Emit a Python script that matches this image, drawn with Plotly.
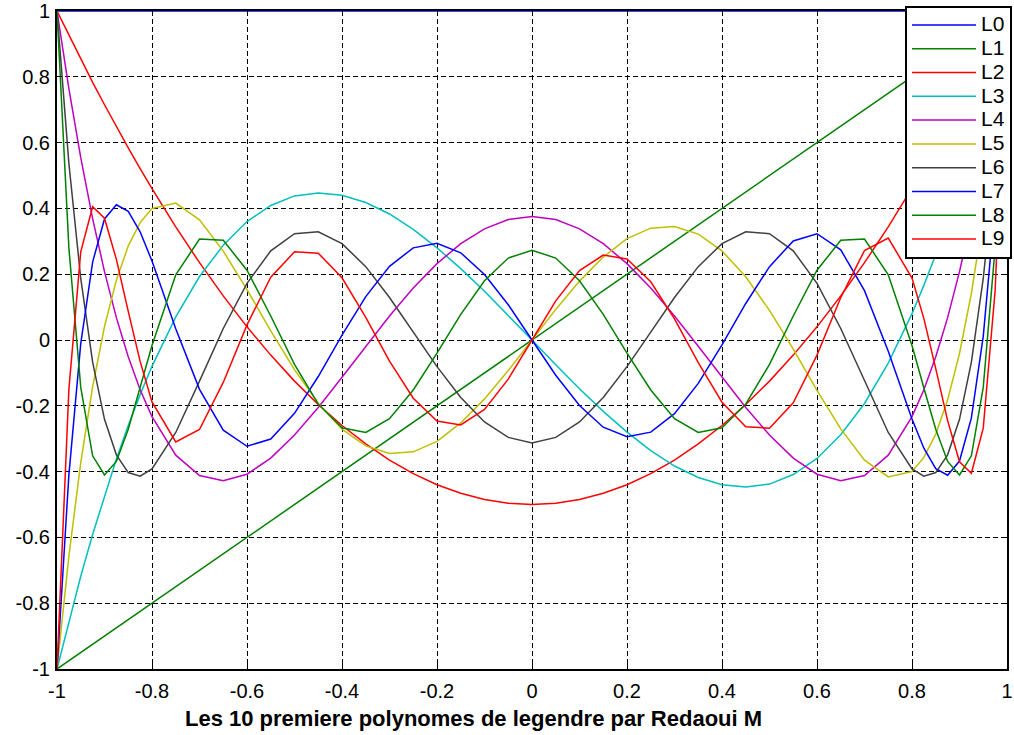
import plotly.graph_objects as go

x = [-1, -0.975, -0.95, -0.925, -0.9, -0.875, -0.85, -0.825, -0.8, -0.75, -0.7, -0.65, -0.6,
     -0.55, -0.5, -0.45, -0.4, -0.35, -0.3, -0.25, -0.2, -0.15, -0.1, -0.05, 0,
     0.05, 0.1, 0.15, 0.2, 0.25, 0.3, 0.35, 0.4, 0.45, 0.5, 0.55, 0.6, 0.65, 0.7, 0.75,
     0.8, 0.825, 0.85, 0.875, 0.9, 0.925, 0.95, 0.975, 1]

L0 = [1, 1, 1, 1, 1, 1, 1, 1, 1, 1, 1, 1, 1, 1, 1, 1, 1, 1, 1, 1, 1, 1, 1, 1, 1,
      1, 1, 1, 1, 1, 1, 1, 1, 1, 1, 1, 1, 1, 1, 1, 1, 1, 1, 1, 1, 1, 1, 1, 1]
L1 = [-1, -0.975, -0.95, -0.925, -0.9, -0.875, -0.85, -0.825, -0.8, -0.75, -0.7, -0.65, -0.6,
      -0.55, -0.5, -0.45, -0.4, -0.35, -0.3, -0.25, -0.2, -0.15, -0.1, -0.05, 0,
      0.05, 0.1, 0.15, 0.2, 0.25, 0.3, 0.35, 0.4, 0.45, 0.5, 0.55, 0.6, 0.65, 0.7, 0.75,
      0.8, 0.825, 0.85, 0.875, 0.9, 0.925, 0.95, 0.975, 1]
L2 = [1, 0.926, 0.854, 0.783, 0.715, 0.648, 0.584, 0.521, 0.46, 0.344, 0.235, 0.134, 0.04,
      -0.046, -0.125, -0.196, -0.26, -0.316, -0.365, -0.406, -0.44, -0.466, -0.485, -0.496, -0.5,
      -0.496, -0.485, -0.466, -0.44, -0.406, -0.365, -0.316, -0.26, -0.196, -0.125, -0.046, 0.04,
      0.134, 0.235, 0.344, 0.46, 0.521, 0.584, 0.648, 0.715, 0.783, 0.854, 0.926, 1]
L3 = [-1, -0.855, -0.718, -0.591, -0.473, -0.362, -0.26, -0.166, -0.08, 0.07, 0.193, 0.288, 0.36,
      0.409, 0.438, 0.447, 0.44, 0.418, 0.383, 0.336, 0.28, 0.217, 0.148, 0.075, 0,
      -0.075, -0.148, -0.217, -0.28, -0.336, -0.383, -0.418, -0.44, -0.447, -0.438, -0.409, -0.36,
      -0.288, -0.193, -0.07, 0.08, 0.166, 0.26, 0.362, 0.473, 0.591, 0.718, 0.855, 1]
L4 = [1, 0.764, 0.554, 0.369, 0.208, 0.068, -0.051, -0.151, -0.233, -0.35, -0.412, -0.428, -0.408,
      -0.359, -0.289, -0.205, -0.113, -0.019, 0.073, 0.158, 0.232, 0.293, 0.338, 0.366, 0.375,
      0.366, 0.338, 0.293, 0.232, 0.158, 0.073, -0.019, -0.113, -0.205, -0.289, -0.359, -0.408,
      -0.428, -0.412, -0.35, -0.233, -0.151, -0.051, 0.068, 0.208, 0.369, 0.554, 0.764, 1]
L5 = [-1, -0.657, -0.373, -0.142, 0.041, 0.182, 0.286, 0.357, 0.4, 0.416, 0.365, 0.27, 0.153,
      0.028, -0.09, -0.192, -0.271, -0.322, -0.345, -0.34, -0.308, -0.252, -0.179, -0.093, 0,
      0.093, 0.179, 0.252, 0.308, 0.34, 0.345, 0.322, 0.271, 0.192, 0.09, -0.028, -0.153,
      -0.27, -0.365, -0.416, -0.4, -0.357, -0.286, -0.182, -0.041, 0.142, 0.373, 0.657, 1]
L6 = [1, 0.537, 0.187, -0.067, -0.241, -0.349, -0.403, -0.414, -0.392, -0.281, -0.125, 0.035, 0.172,
      0.271, 0.323, 0.329, 0.293, 0.223, 0.129, 0.024, -0.081, -0.175, -0.249, -0.296, -0.313,
      -0.296, -0.249, -0.175, -0.081, 0.024, 0.129, 0.223, 0.293, 0.329, 0.323, 0.271, 0.172,
      0.035, -0.125, -0.281, -0.392, -0.414, -0.403, -0.349, -0.241, -0.067, 0.187, 0.537, 1]
L7 = [-1, -0.41, -0.011, 0.237, 0.368, 0.411, 0.391, 0.329, 0.24, 0.034, -0.15, -0.274, -0.323,
      -0.301, -0.223, -0.111, 0.015, 0.132, 0.224, 0.28, 0.294, 0.265, 0.199, 0.107, 0,
      -0.107, -0.199, -0.265, -0.294, -0.28, -0.224, -0.132, -0.015, 0.111, 0.223, 0.301, 0.323,
      0.274, 0.15, -0.034, -0.24, -0.329, -0.391, -0.411, -0.368, -0.237, 0.011, 0.41, 1]
L8 = [1, 0.28, -0.144, -0.352, -0.41, -0.369, -0.271, -0.146, -0.017, 0.198, 0.307, 0.303, 0.212,
      0.073, -0.074, -0.195, -0.267, -0.281, -0.239, -0.152, -0.04, 0.078, 0.18, 0.249, 0.273,
      0.249, 0.18, 0.078, -0.04, -0.152, -0.239, -0.281, -0.267, -0.195, -0.074, 0.073, 0.212,
      0.303, 0.307, 0.198, -0.017, -0.146, -0.271, -0.369, -0.41, -0.352, -0.144, 0.28, 1]
L9 = [-1, -0.15, 0.268, 0.405, 0.37, 0.245, 0.087, -0.065, -0.188, -0.31, -0.272, -0.129, 0.046,
      0.191, 0.268, 0.264, 0.189, 0.069, -0.064, -0.177, -0.246, -0.258, -0.211, -0.119, 0,
      0.119, 0.211, 0.258, 0.246, 0.177, 0.064, -0.069, -0.189, -0.264, -0.268, -0.191, -0.046,
      0.129, 0.272, 0.31, 0.188, 0.065, -0.087, -0.245, -0.37, -0.405, -0.268, 0.15, 1]

names = ["L0", "L1", "L2", "L3", "L4", "L5", "L6", "L7", "L8", "L9"]
series = [L0, L1, L2, L3, L4, L5, L6, L7, L8, L9]
colors = ["#0000ff", "#008000", "#ff0000", "#00bfbf", "#bf00bf",
          "#bfbf00", "#404040", "#0000ff", "#008000", "#ff0000"]

xticks = [-1, -0.8, -0.6, -0.4, -0.2, 0, 0.2, 0.4, 0.6, 0.8, 1]
yticks = [-1, -0.8, -0.6, -0.4, -0.2, 0, 0.2, 0.4, 0.6, 0.8, 1]
xticklabels = ["-1", "-0.8", "-0.6", "-0.4", "-0.2", "0", "0.2", "0.4", "0.6", "0.8", "1"]
yticklabels = ["-1", "-0.8", "-0.6", "-0.4", "-0.2", "0", "0.2", "0.4", "0.6", "0.8", "1"]
xlabel = "Les 10 premiere polynomes de legendre par Redaoui M"

FONT = "Liberation Sans, Arial, sans-serif"

fig = go.Figure()
for name, ys, c in zip(names, series, colors):
    fig.add_trace(go.Scatter(
        x=x, y=ys, mode="lines",
        name='<span style="font-size:21px">' + name + "</span>",
        line=dict(color=c, width=1.5)))

axis_common = dict(
    showline=True, linecolor="black", linewidth=2, mirror="ticks",
    showgrid=True, gridcolor="black", griddash="5px,3px", gridwidth=1,
    ticks="inside", ticklen=5, tickcolor="black", tickwidth=1,
    zeroline=False,
    tickfont=dict(family=FONT, size=20, color="black"),
)

fig.update_layout(
    width=1014, height=735,
    margin=dict(l=57, r=7, t=11, b=66, autoexpand=False),
    paper_bgcolor="white", plot_bgcolor="white",
    showlegend=True,
    legend=dict(
        x=0.8926, y=1.0076, xanchor="left", yanchor="top",
        bgcolor="white", bordercolor="black", borderwidth=2,
        font=dict(family=FONT, size=16, color="black"),
        itemwidth=64, tracegroupgap=0,
    ),
    xaxis=dict(range=[-1, 1], tickvals=xticks, ticktext=xticklabels,
               ticklabelstandoff=3, **axis_common),
    yaxis=dict(range=[-1, 1], tickvals=yticks, ticktext=yticklabels,
               ticklabelstandoff=1, **axis_common),
    annotations=[dict(text="<b>" + xlabel + "</b>", xref="paper", yref="paper",
                      x=0.438, y=-0.0745, xanchor="center", yanchor="middle",
                      showarrow=False,
                      font=dict(family=FONT, size=22, color="black"))],
)

fig.write_html("out.html")
